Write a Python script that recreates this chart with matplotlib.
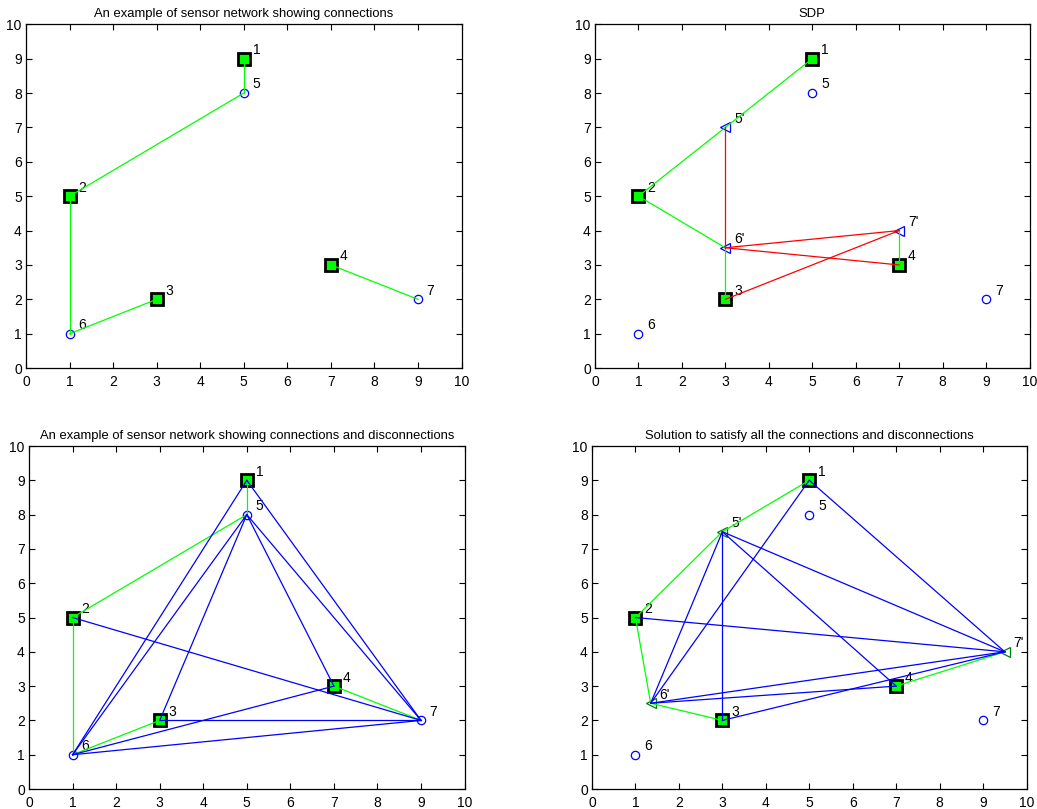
import numpy as np
import matplotlib
matplotlib.use("Agg")
import matplotlib.pyplot as plt

plt.rcParams['font.family'] = ['Liberation Sans', 'DejaVu Sans']

# anchors (known positions) and sensors (true positions)
anchor_ids = ['1', '2', '3', '4']
anchor_x = [5, 1, 3, 7]
anchor_y = [9, 5, 2, 3]
sensor_ids = ['5', '6', '7']
sensor_x = [5, 1, 9]
sensor_y = [8, 1, 2]

# estimated sensor positions
sdp_ids = ["5'", "6'", "7'"]
sdp_x = [3, 3, 7]
sdp_y = [7, 3.5, 4]
sol_x = [3, 1.35, 9.5]
sol_y = [7.5, 2.5, 4]

# edges as pairs of node labels
connections = [('1', '5'), ('5', '2'), ('2', '6'), ('6', '3'), ('4', '7')]
disconnections = [('1', '6'), ('1', '7'), ('5', '6'), ('5', '3'), ('5', '4'),
                  ('5', '7'), ('2', '7'), ('3', '7'), ('6', '4'), ('6', '7')]
sdp_violated = [('5', '6'), ('6', '7'), ('6', '4'), ('3', '7')]

titles = ['An example of sensor network showing connections',
          'SDP',
          'An example of sensor network showing connections and disconnections',
          'Solution to satisfy all the connections and disconnections']


def positions(sx, sy):
    pos = {}
    for i, k in enumerate(anchor_ids):
        pos[k] = (anchor_x[i], anchor_y[i])
    for i, k in enumerate(sensor_ids):
        pos[k] = (sx[i], sy[i])
    return pos


def draw_edges(ax, pos, edges, color):
    for a, b in edges:
        ax.plot([pos[a][0], pos[b][0]], [pos[a][1], pos[b][1]], '-', color=color, lw=0.9, zorder=3)


def setup(ax, title):
    ax.set_xlim(0, 10)
    ax.set_ylim(0, 10)
    ax.set_xticks(range(11))
    ax.set_yticks(range(11))
    ax.tick_params(direction='in', top=True, right=True, length=4, labelsize=10)
    ax.tick_params(axis='x', pad=5)
    ax.tick_params(axis='y', pad=3)
    for s in ax.spines.values():
        s.set_linewidth(0.9)
    ax.set_title(title, fontsize=9.4, pad=5)


def draw_nodes(ax, est_x=None, est_y=None, tri_color='blue'):
    ax.plot(anchor_x, anchor_y, 's', ms=8.5, mfc=(0, 1, 0), mec='black', mew=2, zorder=2)
    ax.plot(sensor_x, sensor_y, 'o', ms=6, mfc='none', mec='blue', mew=0.9, zorder=2)
    for i, k in enumerate(anchor_ids):
        ax.text(anchor_x[i] + 0.2, anchor_y[i] + 0.25, k, fontsize=10, va='center', ha='left')
    for i, k in enumerate(sensor_ids):
        ax.text(sensor_x[i] + 0.2, sensor_y[i] + 0.25, k, fontsize=10, va='center', ha='left')
    if est_x is not None:
        ax.plot(est_x, est_y, '<', ms=7, mfc='none', mec=tri_color, mew=0.9, zorder=2)
        for i, k in enumerate(sdp_ids):
            ax.text(est_x[i] + 0.2, est_y[i] + 0.25, k, fontsize=10, va='center', ha='left')


fig = plt.figure(figsize=(10.37, 8.09), dpi=100)
ax1 = fig.add_axes([0.0251, 0.545, 0.420, 0.425])
ax2 = fig.add_axes([0.5738, 0.545, 0.419, 0.425])
ax3 = fig.add_axes([0.0280, 0.0247, 0.420, 0.424])
ax4 = fig.add_axes([0.5709, 0.0247, 0.419, 0.424])

# plot 1: connections only
true_pos = positions(sensor_x, sensor_y)
draw_nodes(ax1)
draw_edges(ax1, true_pos, connections, (0, 1, 0))
setup(ax1, titles[0])

# plot 2: SDP estimate
sdp_pos = positions(sdp_x, sdp_y)
draw_nodes(ax2, sdp_x, sdp_y, 'blue')
draw_edges(ax2, sdp_pos, connections, (0, 1, 0))
draw_edges(ax2, sdp_pos, sdp_violated, 'red')
setup(ax2, titles[1])

# plot 3: connections and disconnections
draw_nodes(ax3)
draw_edges(ax3, true_pos, connections, (0, 1, 0))
draw_edges(ax3, true_pos, disconnections, 'blue')
setup(ax3, titles[2])

# plot 4: solution
sol_pos = positions(sol_x, sol_y)
draw_nodes(ax4, sol_x, sol_y, 'green')
draw_edges(ax4, sol_pos, connections, (0, 1, 0))
draw_edges(ax4, sol_pos, disconnections, 'blue')
setup(ax4, titles[3])

fig.savefig('out.png', dpi=100)
